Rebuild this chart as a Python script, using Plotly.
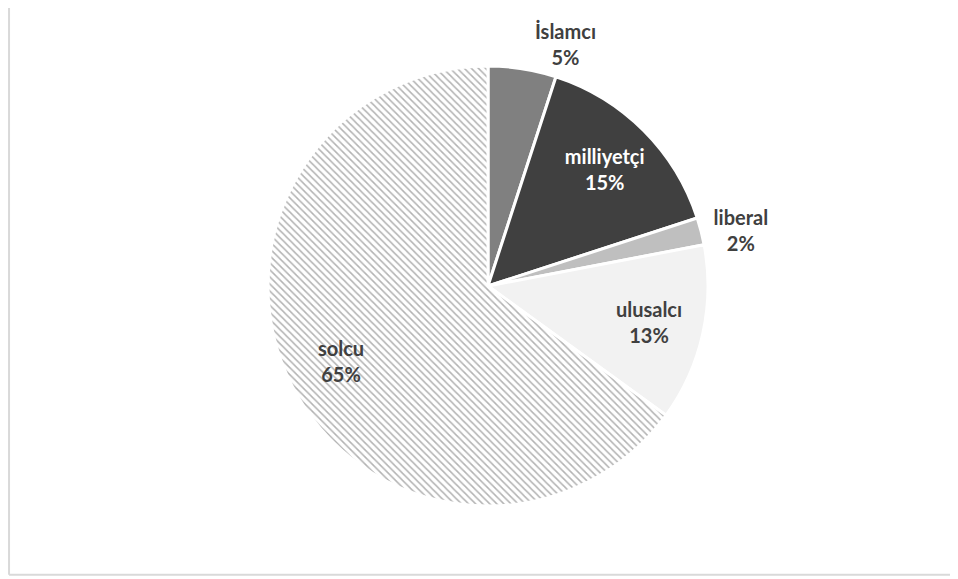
import plotly.graph_objects as go

categories = ["İslamcı", "milliyetçi", "liberal", "ulusalcı", "solcu"]
values = [5, 15, 2, 13, 65]
pct_labels = ["5%", "15%", "2%", "13%", "65%"]

fills = ["#808080", "#404040", "#bfbfbf", "#f2f2f2", "#ffffff"]
text_colors = ["#404040", "#ffffff", "#404040", "#404040", "#404040"]
is_outside = [True, False, True, False, False]

label_tpl = "<b>%{label}</b><br><b>%{customdata}</b>"
outer_tpl = [label_tpl if o else "" for o in is_outside]
inner_tpl = ["" if o else label_tpl for o in is_outside]

common = dict(
    labels=categories,
    values=values,
    customdata=pct_labels,
    sort=False,
    direction="clockwise",
    rotation=0,
    automargin=False,
    insidetextorientation="horizontal",
    textfont=dict(family="Lato", size=20, color=text_colors),
    showlegend=False,
)

fig = go.Figure()
# actual slices, with the outside labels
fig.add_trace(go.Pie(
    **common,
    texttemplate=outer_tpl,
    textposition="outside",
    marker=dict(
        colors=fills,
        line=dict(color="#ffffff", width=3),
        pattern=dict(
            shape=["", "", "", "", "\\"],
            fgcolor="#b3b3b3",
            bgcolor="#ffffff",
            size=5,
            solidity=0.3,
        ),
    ),
    hoverinfo="label+percent",
))
# transparent ring carrying the inside labels further out, as in the original
fig.add_trace(go.Pie(
    **common,
    hole=0.5,
    texttemplate=inner_tpl,
    textposition="inside",
    marker=dict(colors=["rgba(0,0,0,0)"] * len(values), line=dict(width=0)),
    hoverinfo="skip",
))

fig.update_layout(
    width=958,
    height=579,
    margin=dict(l=2, r=0, t=58, b=81),
    paper_bgcolor="#ffffff",
    plot_bgcolor="#ffffff",
    font=dict(family="Lato", color="#404040"),
    shapes=[
        dict(type="line", xref="paper", yref="paper",
             x0=-0.001, x1=-0.001, y0=-0.156, y1=1.2,
             line=dict(color="#d9d9d9", width=2)),
        dict(type="line", xref="paper", yref="paper",
             x0=-0.001, x1=1.01, y0=-0.156, y1=-0.156,
             line=dict(color="#d9d9d9", width=2)),
    ],
)

fig.write_html("out.html")
